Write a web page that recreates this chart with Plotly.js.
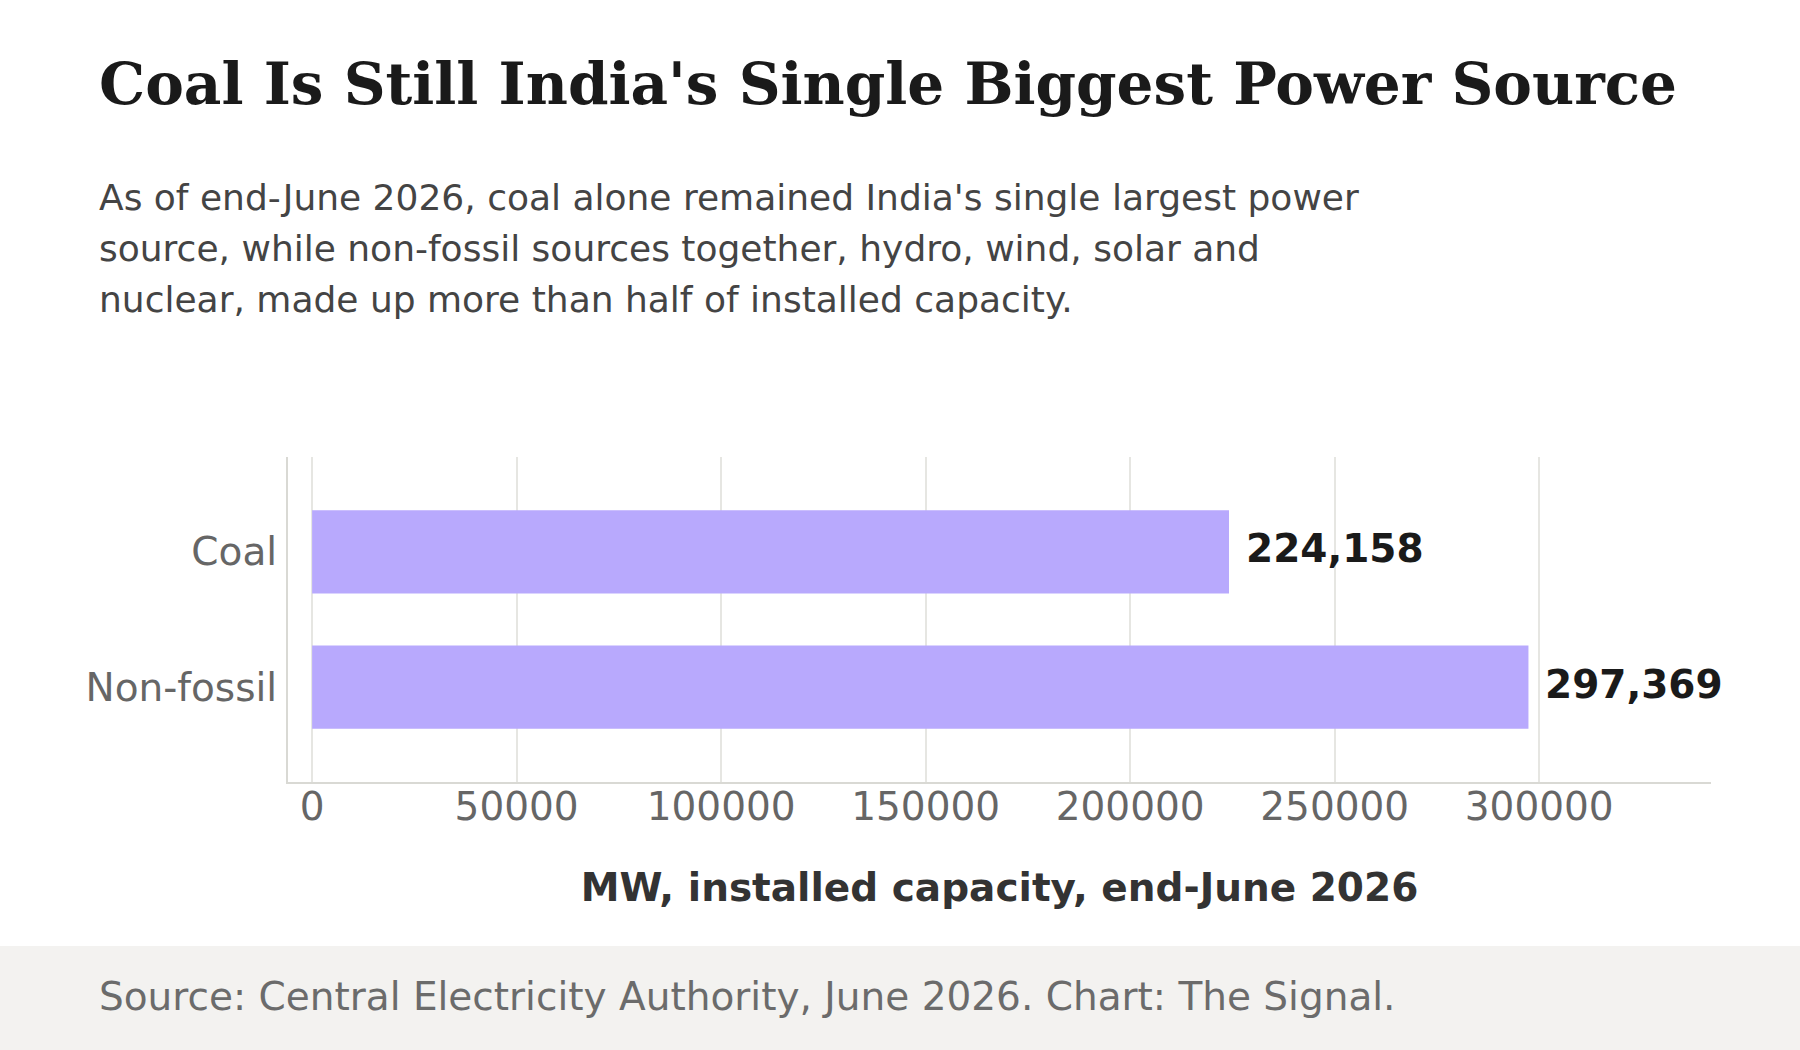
<!DOCTYPE html>
<html>
<head>
<meta charset="utf-8">
<script src="https://cdn.plot.ly/plotly-3.0.1.min.js"></script>
<style>
  html, body { margin: 0; padding: 0; background: #ffffff; }
  #chart { width: 1800px; height: 1050px; }
</style>
</head>
<body>
<div id="chart"></div>
<script>
// data
const categories = ["Coal", "Non-fossil"];
const capacityMW = [224158, 297369];
const xTicks = [0, 50000, 100000, 150000, 200000, 250000, 300000];

const titleText = "Coal Is Still India's Single Biggest Power Source";
const subtitleLines = [
  "As of end-June 2026, coal alone remained India's single largest power",
  "source, while non-fossil sources together, hydro, wind, solar and",
  "nuclear, made up more than half of installed capacity."
];
const axisTitle = "MW, installed capacity, end-June 2026";
const sourceText = "Source: Central Electricity Authority, June 2026. Chart: The Signal.";

// page geometry, px
const W = 1800, H = 1050;
const M = {l: 288, r: 89, t: 457, b: 268};
const plotW = W - M.l - M.r, plotH = H - M.t - M.b;
const px = x => (x - M.l) / plotW;
const py = y => (H - M.b - y) / plotH;

const SANS = "DejaVu Sans, Verdana, sans-serif";
const SERIF = "DejaVu Serif, Georgia, serif";
const BAR = "#b8a9fd";
const GRID = "#e6e6e2";
const AXIS = "#d9d9d4";

const trace = {
  type: "bar",
  orientation: "h",
  x: capacityMW,
  y: categories,
  marker: {color: BAR},
  hoverinfo: "none"
};

const annotations = [];
// value labels next to bars
categories.forEach((c, i) => {
  annotations.push({
    x: capacityMW[i], y: c, xref: "x", yref: "y",
    text: capacityMW[i].toLocaleString("en-US"),
    showarrow: false, xanchor: "left", yanchor: "middle", xshift: 15, yshift: 3,
    font: {family: SANS, size: 39, color: "#1a1a1a", weight: "bold"}
  });
});
annotations.push({
  x: px(97), y: py(84), xref: "paper", yref: "paper",
  text: titleText, showarrow: false, xanchor: "left", yanchor: "middle",
  font: {family: SERIF, size: 58, color: "#1a1a1a", weight: "bold"}
});
subtitleLines.forEach((t, i) => {
  annotations.push({
    x: px(97), y: py(197 + i * 51), xref: "paper", yref: "paper",
    text: t, showarrow: false, xanchor: "left", yanchor: "middle",
    font: {family: SANS, size: 36, color: "#444444"}
  });
});
annotations.push({
  x: px(97), y: py(996), xref: "paper", yref: "paper",
  text: sourceText, showarrow: false, xanchor: "left", yanchor: "middle",
  font: {family: SANS, size: 39, color: "#6b6b6b"}
});

const layout = {
  width: W, height: H,
  margin: M,
  paper_bgcolor: "#ffffff", plot_bgcolor: "#ffffff",
  showlegend: false,
  bargap: 0.385,
  xaxis: {
    range: [-5900, 342000],
    tickvals: xTicks, tickformat: "d",
    showgrid: true, gridcolor: GRID, gridwidth: 2,
    zeroline: false,
    showline: true, linecolor: AXIS, linewidth: 2,
    ticks: "outside", ticklen: 6, tickcolor: "rgba(0,0,0,0)",
    ticklabelstandoff: -17,
    tickfont: {family: SANS, size: 39, color: "#666666"},
    title: {text: axisTitle, standoff: 46,
            font: {family: SANS, size: 39, color: "#333333", weight: "bold"}},
    fixedrange: true
  },
  yaxis: {
    type: "category",
    categoryorder: "array", categoryarray: categories,
    range: [1.7, -0.7],
    showgrid: false, zeroline: false,
    showline: true, linecolor: AXIS, linewidth: 2,
    ticks: "outside", ticklen: 8, tickcolor: "rgba(0,0,0,0)",
    ticklabelstandoff: -7,
    tickfont: {family: SANS, size: 39, color: "#666666"},
    fixedrange: true
  },
  shapes: [{
    type: "rect", xref: "paper", yref: "paper", layer: "below",
    x0: px(0), x1: px(W), y0: py(946), y1: py(H),
    fillcolor: "#f3f2f0", line: {width: 0}
  }],
  annotations: annotations
};

Plotly.newPlot("chart", [trace], layout, {displayModeBar: false, staticPlot: true});
</script>
</body>
</html>
